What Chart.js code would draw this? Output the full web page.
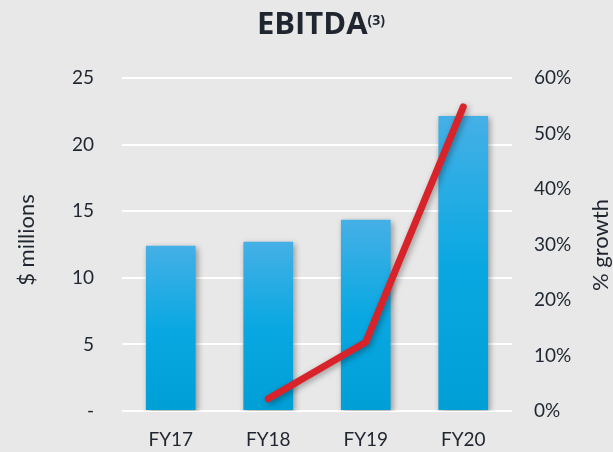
<!DOCTYPE html>
<html>
<head>
<meta charset="utf-8">
<script src="https://cdn.jsdelivr.net/npm/chart.js@4/dist/chart.umd.min.js"></script>
<style>
  html, body { margin: 0; padding: 0; background: #e8e8e8; }
  #wrap { width: 613px; height: 452px; }
</style>
</head>
<body>
<div id="wrap"><canvas id="ebitdaChart" width="613" height="452"></canvas></div>
<script>
// data
const years = ['FY17', 'FY18', 'FY19', 'FY20'];
const ebitda = [12.4, 12.7, 14.35, 22.15];     // $ millions
const growth = [null, 0.022, 0.124, 0.548];    // % growth
const leftTicks = [0, 5, 10, 15, 20, 25];
const rightTicks = [0, 0.1, 0.2, 0.3, 0.4, 0.5, 0.6];

const FONT = 'Lato, "Open Sans", sans-serif';
const TITLE_FONT = '"Open Sans", sans-serif';
const TEXT = '#1f2630';

// bar fill: light at the top of each bar, deeper blue at the base
function barFill(ctx) {
  const chart = ctx.chart;
  if (!chart.chartArea || !chart.scales.y || ctx.parsed == null) return '#0aa6df';
  const y = chart.scales.y;
  const top = y.getPixelForValue(ctx.parsed.y);
  const base = y.getPixelForValue(0);
  const g = chart.ctx.createLinearGradient(0, top, 0, base);
  g.addColorStop(0, '#45b0e6');
  g.addColorStop(0.5, '#0aa8e2');
  g.addColorStop(1, '#009fd6');
  return g;
}

// title with superscript + axis titles
const labelsPlugin = {
  id: 'labels',
  afterDraw(chart) {
    const c = chart.ctx;
    c.save();
    c.fillStyle = TEXT;
    c.textBaseline = 'alphabetic';
    c.textAlign = 'left';
    const main = 'EBITDA';
    c.font = 'bold 14px ' + TITLE_FONT;
    const supW = c.measureText('(3)').width;
    c.font = 'bold 31px ' + TITLE_FONT;
    const mainW = c.measureText(main).width;
    const x = 321 - (mainW + supW) / 2;
    c.fillText(main, x, 34);
    c.font = 'bold 14px ' + TITLE_FONT;
    c.fillText('(3)', x + mainW, 25);
    c.restore();

    c.save();
    c.fillStyle = TEXT;
    c.font = '22px ' + FONT;
    c.textAlign = 'center';
    c.textBaseline = 'middle';
    c.translate(27, 240);
    c.rotate(-Math.PI / 2);
    c.fillText('$ millions', 0, 0);
    c.restore();

    c.save();
    c.fillStyle = TEXT;
    c.font = '22px ' + FONT;
    c.textAlign = 'center';
    c.textBaseline = 'middle';
    c.translate(601, 245);
    c.rotate(-Math.PI / 2);
    c.fillText('% growth', 0, 0);
    c.restore();
  }
};

// soft drop shadow for bars and line
const shadowPlugin = {
  id: 'shadow',
  beforeDatasetDraw(chart) {
    const c = chart.ctx;
    c.save();
    c.shadowColor = 'rgba(0,0,0,0.35)';
    c.shadowBlur = 6;
    c.shadowOffsetX = 2;
    c.shadowOffsetY = 2;
  },
  afterDatasetDraw(chart) {
    chart.ctx.restore();
  }
};

new Chart(document.getElementById('ebitdaChart'), {
  data: {
    labels: years,
    datasets: [
      {
        type: 'line',
        label: '% growth',
        data: growth,
        yAxisID: 'y2',
        borderColor: '#d9232b',
        borderWidth: 7,
        borderCapStyle: 'round',
        borderJoinStyle: 'miter',
        pointRadius: 0,
        tension: 0,
        spanGaps: false,
        order: 0
      },
      {
        type: 'bar',
        label: 'EBITDA',
        data: ebitda,
        yAxisID: 'y',
        backgroundColor: barFill,
        borderWidth: 0,
        barPercentage: 0.51,
        categoryPercentage: 1,
        order: 1
      }
    ]
  },
  options: {
    responsive: false,
    animation: false,
    layout: { padding: { top: 78, left: 0, right: 0, bottom: 0 } },
    plugins: {
      legend: { display: false },
      tooltip: { enabled: false }
    },
    scales: {
      x: {
        grid: { display: false, drawTicks: false },
        border: { display: false },
        ticks: { color: TEXT, font: { family: FONT, size: 19 }, padding: 17 },
        afterFit(s) { s.height = 41; }
      },
      y: {
        position: 'left',
        min: 0, max: 25,
        afterBuildTicks(s) { s.ticks = leftTicks.map(v => ({ value: v })); },
        grid: { color: '#ffffff', lineWidth: 2, drawTicks: false },
        border: { display: false },
        ticks: {
          color: TEXT,
          font: { family: FONT, size: 19 },
          padding: 28,
          callback: v => v === 0 ? '-' : v
        },
        afterFit(s) { s.width = 122; }
      },
      y2: {
        position: 'right',
        min: 0, max: 0.6,
        afterBuildTicks(s) { s.ticks = rightTicks.map(v => ({ value: v })); },
        grid: { display: false, drawTicks: false },
        border: { display: false },
        ticks: {
          color: TEXT,
          font: { family: FONT, size: 19 },
          padding: 22,
          callback: v => Math.round(v * 100) + '%'
        },
        afterFit(s) { s.width = 101; }
      }
    }
  },
  plugins: [shadowPlugin, labelsPlugin]
});
</script>
</body>
</html>
